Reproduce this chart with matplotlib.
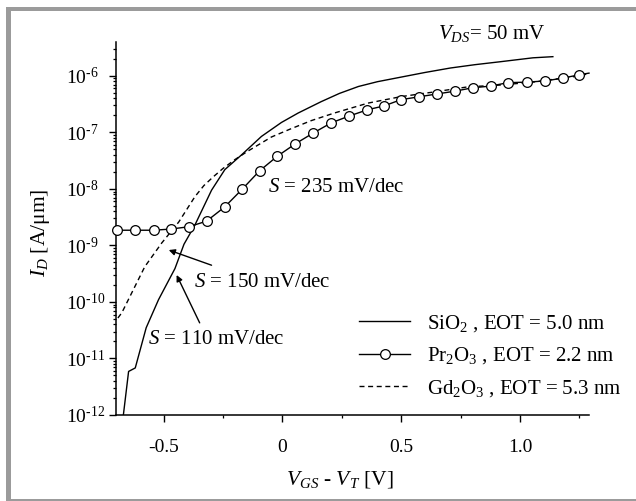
import matplotlib
matplotlib.use("Agg")
import matplotlib.pyplot as plt
from matplotlib.patches import Rectangle
from matplotlib.ticker import FixedLocator, NullFormatter

plt.rcParams['font.family'] = ['Liberation Serif', 'DejaVu Serif']
plt.rcParams['mathtext.fontset'] = 'custom'
plt.rcParams['mathtext.rm'] = 'Liberation Serif'
plt.rcParams['mathtext.it'] = 'Liberation Serif:italic'
plt.rcParams['mathtext.bf'] = 'Liberation Serif:bold'
plt.rcParams['axes.unicode_minus'] = False

# ---------------- data ----------------
sio2_v = [-0.675, -0.669, -0.647, -0.619, -0.573, -0.521, -0.452, -0.414, -0.368,
          -0.298, -0.242, -0.172, -0.088, -0.004, 0.066, 0.163, 0.240, 0.320,
          0.400, 0.498, 0.600, 0.707, 0.810, 0.916, 1.054, 1.138]
sio2_i = [5.0e-13, 1.0e-12, 5.9e-12, 6.8e-12, 3.5e-11, 1.10e-10, 3.9e-10, 1.05e-9, 2.3e-9,
          9.5e-9, 2.2e-8, 4.0e-8, 8.5e-8, 1.5e-7, 2.2e-7, 3.5e-7, 4.9e-7, 6.5e-7,
          7.9e-7, 9.5e-7, 1.15e-6, 1.38e-6, 1.58e-6, 1.78e-6, 2.09e-6, 2.19e-6]

pr_v = [-0.696, -0.621, -0.541, -0.470, -0.394, -0.319, -0.243, -0.168, -0.096,
        -0.021, 0.055, 0.130, 0.206, 0.281, 0.357, 0.428, 0.499, 0.575, 0.650,
        0.726, 0.801, 0.877, 0.948, 1.028, 1.103, 1.179, 1.250, 1.29]
pr_i = [1.86e-9, 1.86e-9, 1.86e-9, 1.95e-9, 2.14e-9, 2.69e-9, 4.79e-9, 1.0e-8, 2.09e-8,
        3.80e-8, 6.31e-8, 9.77e-8, 1.48e-7, 1.95e-7, 2.51e-7, 2.95e-7, 3.80e-7, 4.27e-7,
        4.79e-7, 5.37e-7, 6.17e-7, 6.61e-7, 7.59e-7, 7.76e-7, 8.13e-7, 9.12e-7, 1.05e-6,
        1.12e-6]

gd_v = [-0.692, -0.675, -0.579, -0.508, -0.436, -0.368, -0.330, -0.290, -0.250,
        -0.200, -0.144, -0.046, 0.038, 0.122, 0.218, 0.360, 0.499, 0.638, 0.780,
        0.919, 1.057, 1.250, 1.29]
gd_i = [5.2e-11, 6.5e-11, 4.2e-10, 1.10e-9, 2.6e-9, 7.3e-9, 1.15e-8, 1.65e-8, 2.3e-8,
        3.3e-8, 4.7e-8, 8.3e-8, 1.17e-7, 1.62e-7, 2.2e-7, 3.3e-7, 4.3e-7, 5.2e-7,
        6.4e-7, 6.9e-7, 7.8e-7, 1.0e-6, 1.10e-6]

labels = [r'SiO$_2$ , EOT = 5.0 nm', r'Pr$_2$O$_3$ , EOT = 2.2 nm',
          r'Gd$_2$O$_3$ , EOT = 5.3 nm']
xticks = [-0.5, 0.0, 0.5, 1.0]
xticklabels = ['-0.5', '0', '0.5', '1.0']
yexps = [-12, -11, -10, -9, -8, -7, -6]

# ---------------- figure ----------------
W, H = 636, 501
fig = plt.figure(figsize=(W / 100, H / 100), dpi=100)

def fx(px):
    return px / W

def fy(py):
    return 1 - py / H

ax = fig.add_axes([fx(116), fy(415), fx(589) - fx(116), fy(42) - fy(415)])

FS = 15
TFS = 14
LFS = 15.5
ax.plot(sio2_v, sio2_i, color='black', lw=1.0, ls='-', label=labels[0])
ax.plot(pr_v, pr_i, color='black', lw=1.0, ls='-', marker='o', markersize=7,
        markerfacecolor='white', markeredgecolor='black', markeredgewidth=0.9,
        markevery=list(range(len(pr_v) - 1)), clip_on=False, zorder=4, label=labels[1])
ax.plot(gd_v, gd_i, color='black', lw=1.0, ls=(0, (3.6, 2.6)), label=labels[2])

ax.set_yscale('log')
ax.set_xlim(-0.7, 1.29)
ax.set_ylim(1e-12, 10 ** -5.4)

for s in ['top', 'right']:
    ax.spines[s].set_visible(False)
for s in ['left', 'bottom']:
    ax.spines[s].set_linewidth(1.1)

ax.xaxis.set_major_locator(FixedLocator(xticks))
ax.set_xticklabels(xticklabels)
ax.xaxis.set_minor_locator(FixedLocator([-0.25, 0.25, 0.75, 1.25]))

ax.yaxis.set_major_locator(FixedLocator([10.0 ** e for e in yexps]))
ax.set_yticklabels([r'$\mathregular{10^{\text{-}%d}}$' % (-e) for e in yexps])
minors = [m * 10.0 ** e for e in range(-12, -5) for m in range(2, 10)]
ax.yaxis.set_minor_locator(FixedLocator(minors))
ax.yaxis.set_minor_formatter(NullFormatter())

ax.tick_params(which='major', direction='out', length=5, width=1.0, labelsize=TFS)
ax.tick_params(which='minor', direction='out', length=2.5, width=0.9)
ax.tick_params(axis='x', which='major', pad=12)
ax.tick_params(axis='y', which='major', pad=31)
for lbl in ax.get_yticklabels():
    lbl.set_horizontalalignment('left')

leg = ax.legend(loc='upper left', bbox_to_anchor=((359 - 116) / 473, (415 - 313) / 373),
                frameon=False, fontsize=FS, handlelength=2.45, handletextpad=0.8,
                labelspacing=0.55, borderpad=0, borderaxespad=0)

# annotations
fig.text(fx(438), fy(33), r'$V_{DS}$= 50 mV', fontsize=FS, ha='left', va='center')
ax.text(-0.059, 1.05e-8, r'$S$ = 235 mV/dec', fontsize=FS, ha='left', va='center')
ax.text(-0.372, 2.24e-10, r'$S$ = 150 mV/dec', fontsize=FS, ha='left', va='center')
ax.text(-0.566, 2.14e-11, r'$S$ = 110 mV/dec', fontsize=FS, ha='left', va='center')
arrow = dict(arrowstyle='-|>', color='black', lw=1.0, mutation_scale=9, shrinkA=0, shrinkB=0)
ax.annotate('', xy=(-0.478, 8.3e-10), xytext=(-0.298, 4.47e-10), arrowprops=arrow)
ax.annotate('', xy=(-0.445, 3.0e-10), xytext=(-0.348, 4.27e-11), arrowprops=arrow)

# axis labels
fig.text(fx(40), fy(233), r'$I_D$ [A/μm]', fontsize=LFS, rotation=90, ha='center', va='center')
fig.text(fx(340), fy(479), r'$V_{GS}$ - $V_T$ [V]', fontsize=LFS, ha='center', va='center')

# gray frame
gray = '#9b9b9b'
fig.add_artist(Rectangle((fx(6), fy(501)), fx(5), fy(7) - fy(501), transform=fig.transFigure,
                         facecolor=gray, edgecolor='none'))
fig.add_artist(Rectangle((fx(6), fy(11)), 1, fy(7) - fy(11), transform=fig.transFigure,
                         facecolor=gray, edgecolor='none'))
fig.add_artist(Rectangle((fx(6), fy(501)), 1, fy(498.5) - fy(501), transform=fig.transFigure,
                         facecolor=gray, edgecolor='none'))

fig.savefig('out.png', dpi=100)
